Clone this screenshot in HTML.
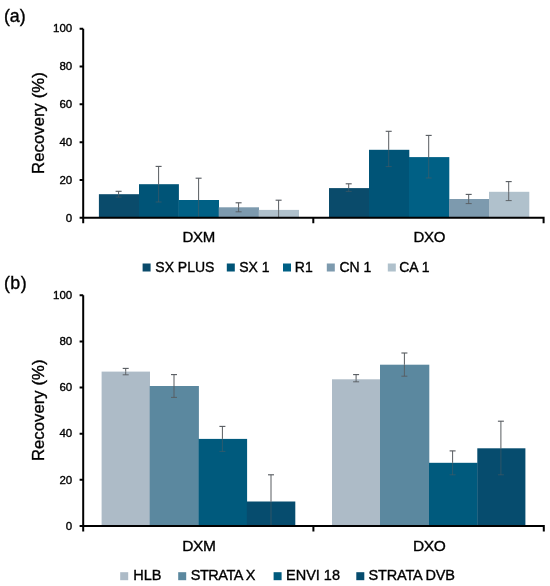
<!DOCTYPE html>
<html><head><meta charset="utf-8"><style>
html,body{margin:0;padding:0;background:#fff;width:550px;height:586px;overflow:hidden}
svg{display:block;will-change:transform}
text{font-family:"Liberation Sans", sans-serif;fill:#000;stroke:#000;stroke-width:0.35px}
</style></head><body>
<svg width="550" height="586" viewBox="0 0 550 586">
<rect width="550" height="586" fill="#fff"/>
<text x="3.9" y="22.2" font-size="17.8">(a)</text>
<text x="3.9" y="288.6" font-size="17.8" letter-spacing="0.5">(b)</text>
<text transform="translate(43.6 123.1) rotate(-90)" text-anchor="middle" font-size="16.8">Recovery (%)</text>
<text transform="translate(43.8 410.3) rotate(-90)" text-anchor="middle" font-size="16.8">Recovery (%)</text>
<text x="198.8" y="242.4" text-anchor="middle" font-size="15" letter-spacing="-0.3">DXM</text>
<text x="429.2" y="242.4" text-anchor="middle" font-size="15" letter-spacing="-0.3">DXO</text>
<text x="198.8" y="550.7" text-anchor="middle" font-size="15.5" letter-spacing="-0.45">DXM</text>
<text x="429.2" y="550.7" text-anchor="middle" font-size="15.5" letter-spacing="-0.45">DXO</text>
<rect x="98.90" y="194.20" width="40.40" height="23.60" fill="#0a4b6b"/>
<rect x="139.00" y="184.20" width="39.90" height="33.60" fill="#005477"/>
<rect x="178.60" y="200.00" width="40.40" height="17.80" fill="#006085"/>
<rect x="218.70" y="207.30" width="40.30" height="10.50" fill="#7d9aae"/>
<rect x="258.70" y="209.90" width="40.30" height="7.90" fill="#b0c1cc"/>
<rect x="329.00" y="188.10" width="40.30" height="29.70" fill="#0a4b6b"/>
<rect x="369.00" y="149.80" width="40.30" height="68.00" fill="#005477"/>
<rect x="409.00" y="157.10" width="40.30" height="60.70" fill="#006085"/>
<rect x="449.00" y="199.00" width="40.30" height="18.80" fill="#7d9aae"/>
<rect x="489.00" y="191.80" width="40.30" height="26.00" fill="#b0c1cc"/>
<path d="M115.60 191.30H121.60" stroke="#55595e" stroke-width="1.1" fill="none"/>
<path d="M118.60 191.30V194.20" stroke="#585c60" stroke-width="1.0" fill="none"/>
<path d="M118.60 194.20V197.10M115.60 197.10H121.60" stroke="#585c60" stroke-width="1.0" fill="none" opacity="0.5"/>
<path d="M155.60 166.40H161.60" stroke="#55595e" stroke-width="1.1" fill="none"/>
<path d="M158.60 166.40V184.20" stroke="#585c60" stroke-width="1.0" fill="none"/>
<path d="M158.60 184.20V202.00M155.60 202.00H161.60" stroke="#585c60" stroke-width="1.0" fill="none" opacity="0.5"/>
<path d="M195.60 178.20H201.60" stroke="#55595e" stroke-width="1.1" fill="none"/>
<path d="M198.60 178.20V200.00" stroke="#585c60" stroke-width="1.0" fill="none"/>
<path d="M198.60 200.00V217.60M195.60 217.60H201.60" stroke="#585c60" stroke-width="1.0" fill="none" opacity="0.5"/>
<path d="M235.60 202.80H241.60" stroke="#55595e" stroke-width="1.1" fill="none"/>
<path d="M238.60 202.80V207.30" stroke="#585c60" stroke-width="1.0" fill="none"/>
<path d="M238.60 207.30V211.80M235.60 211.80H241.60" stroke="#585c60" stroke-width="1.0" fill="none" opacity="0.9"/>
<path d="M275.60 200.20H281.60" stroke="#55595e" stroke-width="1.1" fill="none"/>
<path d="M278.60 200.20V209.90" stroke="#585c60" stroke-width="1.0" fill="none"/>
<path d="M278.60 209.90V217.60M275.60 217.60H281.60" stroke="#585c60" stroke-width="1.0" fill="none" opacity="0.9"/>
<path d="M345.70 183.80H351.70" stroke="#55595e" stroke-width="1.1" fill="none"/>
<path d="M348.70 183.80V188.10" stroke="#585c60" stroke-width="1.0" fill="none"/>
<path d="M348.70 188.10V191.40M345.70 191.40H351.70" stroke="#585c60" stroke-width="1.0" fill="none" opacity="0.5"/>
<path d="M385.70 131.30H391.70" stroke="#55595e" stroke-width="1.1" fill="none"/>
<path d="M388.70 131.30V149.80" stroke="#585c60" stroke-width="1.0" fill="none"/>
<path d="M388.70 149.80V166.60M385.70 166.60H391.70" stroke="#585c60" stroke-width="1.0" fill="none" opacity="0.5"/>
<path d="M425.70 135.40H431.70" stroke="#55595e" stroke-width="1.1" fill="none"/>
<path d="M428.70 135.40V157.10" stroke="#585c60" stroke-width="1.0" fill="none"/>
<path d="M428.70 157.10V178.00M425.70 178.00H431.70" stroke="#585c60" stroke-width="1.0" fill="none" opacity="0.5"/>
<path d="M465.70 194.40H471.70" stroke="#55595e" stroke-width="1.1" fill="none"/>
<path d="M468.70 194.40V199.00" stroke="#585c60" stroke-width="1.0" fill="none"/>
<path d="M468.70 199.00V203.60M465.70 203.60H471.70" stroke="#585c60" stroke-width="1.0" fill="none" opacity="0.9"/>
<path d="M505.70 181.60H511.70" stroke="#55595e" stroke-width="1.1" fill="none"/>
<path d="M508.70 181.60V191.80" stroke="#585c60" stroke-width="1.0" fill="none"/>
<path d="M508.70 191.80V200.60M505.70 200.60H511.70" stroke="#585c60" stroke-width="1.0" fill="none" opacity="0.9"/>
<path d="M83.20 28.70V223.30M79.60 217.80H83.20M79.60 179.98H83.20M79.60 142.16H83.20M79.60 104.34H83.20M79.60 66.52H83.20M79.60 28.70H83.20M83.20 217.80H543.60V223.30M313.30 217.80V223.30" stroke="#000" stroke-width="2.0" fill="none"/>
<text x="72.2" y="221.50" text-anchor="end" font-size="11.5">0</text>
<text x="72.2" y="183.68" text-anchor="end" font-size="11.5">20</text>
<text x="72.2" y="145.86" text-anchor="end" font-size="11.5">40</text>
<text x="72.2" y="108.04" text-anchor="end" font-size="11.5">60</text>
<text x="72.2" y="70.22" text-anchor="end" font-size="11.5">80</text>
<text x="72.2" y="32.40" text-anchor="end" font-size="11.5">100</text>
<rect x="101.60" y="371.60" width="48.40" height="154.40" fill="#adbbc7"/>
<rect x="149.70" y="386.00" width="49.20" height="140.00" fill="#5b889f"/>
<rect x="198.60" y="438.90" width="48.50" height="87.10" fill="#005a7d"/>
<rect x="246.80" y="501.50" width="48.50" height="24.50" fill="#064c6e"/>
<rect x="332.00" y="379.30" width="48.30" height="146.70" fill="#adbbc7"/>
<rect x="380.00" y="364.70" width="49.30" height="161.30" fill="#5b889f"/>
<rect x="429.00" y="462.80" width="48.60" height="63.20" fill="#005a7d"/>
<rect x="477.30" y="448.30" width="48.10" height="77.70" fill="#064c6e"/>
<path d="M122.70 368.40H128.70" stroke="#55595e" stroke-width="1.1" fill="none"/>
<path d="M125.70 368.40V371.60" stroke="#585c60" stroke-width="1.0" fill="none"/>
<path d="M125.70 371.60V374.80M122.70 374.80H128.70" stroke="#585c60" stroke-width="1.0" fill="none" opacity="0.9"/>
<path d="M171.00 374.60H177.00" stroke="#55595e" stroke-width="1.1" fill="none"/>
<path d="M174.00 374.60V386.00" stroke="#585c60" stroke-width="1.0" fill="none"/>
<path d="M174.00 386.00V397.40M171.00 397.40H177.00" stroke="#585c60" stroke-width="1.0" fill="none" opacity="0.9"/>
<path d="M219.40 426.40H225.40" stroke="#55595e" stroke-width="1.1" fill="none"/>
<path d="M222.40 426.40V438.90" stroke="#585c60" stroke-width="1.0" fill="none"/>
<path d="M222.40 438.90V451.40M219.40 451.40H225.40" stroke="#585c60" stroke-width="1.0" fill="none" opacity="0.5"/>
<path d="M268.00 474.80H274.00" stroke="#55595e" stroke-width="1.1" fill="none"/>
<path d="M271.00 474.80V501.50" stroke="#585c60" stroke-width="1.0" fill="none"/>
<path d="M271.00 501.50V526.00M268.00 526.00H274.00" stroke="#585c60" stroke-width="1.0" fill="none" opacity="0.5"/>
<path d="M353.10 374.60H359.10" stroke="#55595e" stroke-width="1.1" fill="none"/>
<path d="M356.10 374.60V379.30" stroke="#585c60" stroke-width="1.0" fill="none"/>
<path d="M356.10 379.30V381.80M353.10 381.80H359.10" stroke="#585c60" stroke-width="1.0" fill="none" opacity="0.9"/>
<path d="M401.40 353.00H407.40" stroke="#55595e" stroke-width="1.1" fill="none"/>
<path d="M404.40 353.00V364.70" stroke="#585c60" stroke-width="1.0" fill="none"/>
<path d="M404.40 364.70V376.20M401.40 376.20H407.40" stroke="#585c60" stroke-width="1.0" fill="none" opacity="0.9"/>
<path d="M449.60 450.90H455.60" stroke="#55595e" stroke-width="1.1" fill="none"/>
<path d="M452.60 450.90V462.80" stroke="#585c60" stroke-width="1.0" fill="none"/>
<path d="M452.60 462.80V474.80M449.60 474.80H455.60" stroke="#585c60" stroke-width="1.0" fill="none" opacity="0.5"/>
<path d="M497.90 421.20H503.90" stroke="#55595e" stroke-width="1.1" fill="none"/>
<path d="M500.90 421.20V448.30" stroke="#585c60" stroke-width="1.0" fill="none"/>
<path d="M500.90 448.30V474.80M497.90 474.80H503.90" stroke="#585c60" stroke-width="1.0" fill="none" opacity="0.5"/>
<path d="M83.20 295.30V531.50M79.60 526.00H83.20M79.60 479.86H83.20M79.60 433.72H83.20M79.60 387.58H83.20M79.60 341.44H83.20M79.60 295.30H83.20M83.20 526.00H543.80V531.50M313.40 526.00V531.50" stroke="#000" stroke-width="2.0" fill="none"/>
<text x="72.2" y="529.70" text-anchor="end" font-size="11.5">0</text>
<text x="72.2" y="483.56" text-anchor="end" font-size="11.5">20</text>
<text x="72.2" y="437.42" text-anchor="end" font-size="11.5">40</text>
<text x="72.2" y="391.28" text-anchor="end" font-size="11.5">60</text>
<text x="72.2" y="345.14" text-anchor="end" font-size="11.5">80</text>
<text x="72.2" y="299.00" text-anchor="end" font-size="11.5">100</text>
<rect x="142.60" y="263.50" width="8" height="8" fill="#0a4b6b"/>
<text x="155.30" y="271.50" font-size="14">SX PLUS</text>
<rect x="226.80" y="263.50" width="8" height="8" fill="#005477"/>
<text x="239.20" y="271.50" font-size="14">SX 1</text>
<rect x="283.00" y="263.50" width="8" height="8" fill="#006085"/>
<text x="294.80" y="271.50" font-size="14">R1</text>
<rect x="326.80" y="263.50" width="8" height="8" fill="#7d9aae"/>
<text x="339.50" y="271.50" font-size="14">CN 1</text>
<rect x="387.80" y="263.50" width="8" height="8" fill="#b0c1cc"/>
<text x="399.20" y="271.50" font-size="14">CA 1</text>
<rect x="120.20" y="572.20" width="8" height="8" fill="#adbbc7"/>
<text x="133.30" y="580.20" font-size="14.5">HLB</text>
<rect x="178.20" y="572.20" width="8" height="8" fill="#5b889f"/>
<text x="190.70" y="580.20" font-size="14.5" letter-spacing="-0.45">STRATA X</text>
<rect x="273.60" y="572.20" width="8" height="8" fill="#005a7d"/>
<text x="286.00" y="580.20" font-size="14.5">ENVI 18</text>
<rect x="356.30" y="572.20" width="8" height="8" fill="#064c6e"/>
<text x="368.60" y="580.20" font-size="14.5" letter-spacing="-0.2">STRATA DVB</text>
</svg>
</body></html>
